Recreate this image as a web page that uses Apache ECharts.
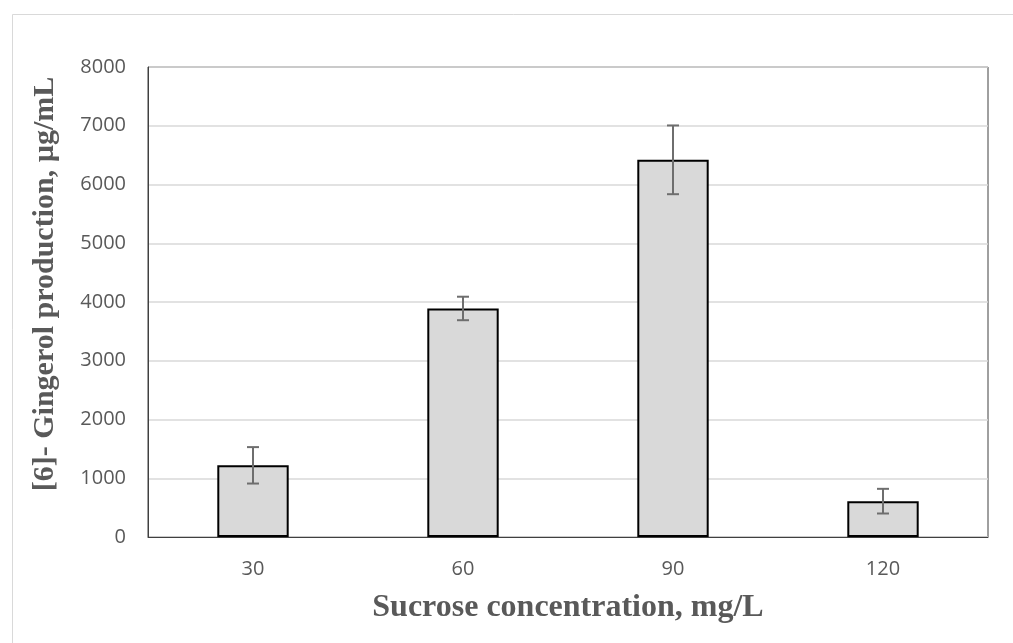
<!DOCTYPE html>
<html><head><meta charset="utf-8">
<script src="https://cdn.jsdelivr.net/npm/echarts@6/dist/echarts.min.js"></script>
<style>html,body{margin:0;padding:0;background:#fff}#c{width:1013px;height:643px}</style>
</head><body><div id="c"></div>
<script>
const categories = ['30', '60', '90', '120'];
const values = [1220, 3890, 6420, 610];
const errors = [310, 200, 585, 210];
const yTicks = [0, 1000, 2000, 3000, 4000, 5000, 6000, 7000, 8000];

const errData = values.map((v, i) => [i, v - errors[i], v + errors[i]]);

const chart = echarts.init(document.getElementById('c'));
chart.setOption({
  animation: false,
  backgroundColor: '#fff',
  graphic: [{
    type: 'rect', left: 10, top: 12, z: -10,
    shape: { width: 1010, height: 640 },
    style: { fill: 'none', stroke: '#d9d9d9', lineWidth: 1 }
  }],
  grid: { left: 148, top: 67, right: 25, bottom: 106, show: true, borderColor: '#404040', borderWidth: 1, backgroundColor: 'transparent' },
  xAxis: {
    type: 'category', data: categories,
    name: 'Sucrose concentration, mg/L', nameLocation: 'middle', nameGap: 55,
    nameTextStyle: { fontFamily: 'Liberation Serif', fontWeight: 'bold', fontSize: 32, color: '#595959' },
    axisLine: { show: true, lineStyle: { color: '#404040', width: 1 } },
    axisTick: { show: false },
    axisLabel: { fontFamily: 'Open Sans', fontSize: 20, color: '#595959', margin: 22 }
  },
  yAxis: {
    type: 'value', min: 0, max: 8000, interval: 1000,
    name: '[6]- Gingerol production, µg/mL', nameLocation: 'middle', nameGap: 88,
    nameTextStyle: { fontFamily: 'Liberation Serif', fontWeight: 'bold', fontSize: 30, color: '#595959', padding: [0, 0, 0, 36] },
    axisLine: { show: true, lineStyle: { color: '#404040', width: 1 } },
    axisTick: { show: false },
    axisLabel: { fontFamily: 'Open Sans', fontSize: 20, color: '#595959', margin: 22,
      formatter: v => yTicks.includes(v) ? String(v) : '' },
    splitLine: { show: true, lineStyle: { color: '#d9d9d9', width: 1.5 } }
  },
  series: [
    {
      type: 'bar', data: values, barWidth: '34%',
      itemStyle: { color: '#d9d9d9', borderColor: '#000', borderWidth: 2 }
    },
    {
      type: 'custom', data: errData, z: 10,
      renderItem: function (params, api) {
        const x = api.coord([api.value(0), api.value(1)])[0];
        const yLo = api.coord([api.value(0), api.value(1)])[1];
        const yHi = api.coord([api.value(0), api.value(2)])[1];
        const hw = 6;
        const st = { stroke: '#6e6e6e', lineWidth: 2, fill: 'none' };
        return {
          type: 'group',
          children: [
            { type: 'line', shape: { x1: x, y1: yLo, x2: x, y2: yHi }, style: st },
            { type: 'line', shape: { x1: x - hw, y1: yLo, x2: x + hw, y2: yLo }, style: st },
            { type: 'line', shape: { x1: x - hw, y1: yHi, x2: x + hw, y2: yHi }, style: st }
          ]
        };
      }
    }
  ]
});
</script></body></html>
